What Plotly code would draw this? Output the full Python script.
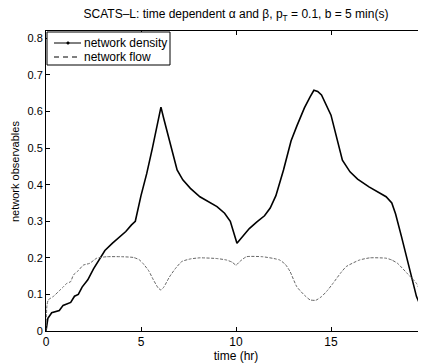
import plotly.graph_objects as go

density_t = [0, 0.1, 0.3, 0.5, 0.7, 0.9, 1.1, 1.3, 1.5, 1.7, 1.9, 2.2, 2.5, 2.8, 3.1, 3.5, 3.9, 4.2, 4.5, 4.7,
             5.0, 5.3, 5.6, 5.9, 6.05, 6.2, 6.5, 6.9, 7.2, 7.6, 8.1, 8.6, 9.0, 9.4, 9.7, 10.05, 10.4, 10.7, 11.1, 11.5,
             11.8, 12.1, 12.5, 12.9, 13.2, 13.6, 13.9, 14.1, 14.3, 14.5, 15.0, 15.3, 15.6, 16.0, 16.4, 17.0, 17.5, 17.9,
             18.2, 18.4, 18.7, 19.0, 19.3, 19.5, 19.7, 19.85, 20]
density = [0, 0.035, 0.05, 0.053, 0.056, 0.07, 0.074, 0.078, 0.095, 0.1, 0.12, 0.14, 0.17, 0.195, 0.22, 0.24, 0.258, 0.272, 0.29, 0.3,
           0.37, 0.43, 0.5, 0.57, 0.612, 0.58, 0.52, 0.44, 0.413, 0.39, 0.367, 0.352, 0.34, 0.322, 0.3, 0.24, 0.26, 0.28, 0.298, 0.315,
           0.336, 0.37, 0.44, 0.52, 0.56, 0.61, 0.64, 0.658, 0.655, 0.645, 0.59, 0.53, 0.467, 0.435, 0.415, 0.394, 0.38, 0.367,
           0.35, 0.32, 0.26, 0.2, 0.14, 0.094, 0.07, 0.058, 0.057]

flow_t = [0, 0.05, 0.12, 0.4, 0.74, 0.9, 1.09, 1.3, 1.44, 1.7, 1.96, 2.3, 2.67, 3.2, 4.0, 4.6, 4.9, 5.1, 5.4, 5.65,
          5.9, 6.05, 6.2, 6.5, 6.8, 7.15, 7.6, 8.1, 9.0, 9.5, 9.8, 10.0, 10.2, 10.55, 11.4, 12.0, 12.3, 12.6, 12.85, 13.2,
          13.6, 13.9, 14.2, 14.5, 14.8, 15.1, 15.5, 15.8, 16.5, 17.05, 17.9, 18.2, 18.5, 19.0, 19.5, 19.85, 20]
flow = [0, 0.07, 0.085, 0.095, 0.112, 0.12, 0.13, 0.135, 0.153, 0.165, 0.18, 0.185, 0.199, 0.203, 0.203, 0.201, 0.195, 0.185, 0.165, 0.14,
        0.118, 0.112, 0.12, 0.148, 0.17, 0.19, 0.197, 0.2, 0.198, 0.194, 0.188, 0.18, 0.19, 0.203, 0.203, 0.198, 0.194, 0.182, 0.162, 0.121,
        0.098, 0.085, 0.084, 0.094, 0.11, 0.13, 0.158, 0.176, 0.194, 0.2, 0.199, 0.194, 0.185, 0.158, 0.13, 0.094, 0.095]

series_names = ["network density", "network flow"]
x_ticks = [0, 5, 10, 15, 20]
y_ticks = [0, 0.1, 0.2, 0.3, 0.4, 0.5, 0.6, 0.7, 0.8]
y_tick_labels = ["0", "0.1", "0.2", "0.3", "0.4", "0.5", "0.6", "0.7", "0.8"]

# page body has an 8px default margin; compensate so the figure fills the 426x363 window
W, H = 418, 355
ML, MT, MB = 38, 23, 32
PX0, PY0, PW, PH = 46, 31, 380, 300  # plot area in window pixels


def px(xp):
    return (xp - PX0) / PW


def py(yp):
    return (PY0 + PH - yp) / PH


fnt = "Arial, Liberation Sans, sans-serif"

fig = go.Figure()
fig.add_trace(go.Scatter(x=density_t, y=density, mode="lines", name=series_names[0], showlegend=False,
                         line=dict(color="black", width=1.6)))
fig.add_trace(go.Scatter(x=flow_t, y=flow, mode="lines", name=series_names[1], showlegend=False,
                         line=dict(color="#666666", width=1, dash="3px,1.5px", shape="spline", smoothing=0.5)))

# compact MATLAB-style legend box
shapes = [
    dict(type="rect", xref="paper", yref="paper", x0=px(47), x1=px(170), y0=py(65), y1=py(32),
         line=dict(color="black", width=1), fillcolor="white", layer="above"),
    dict(type="line", xref="paper", yref="paper", x0=px(54), x1=px(81), y0=py(43), y1=py(43),
         line=dict(color="black", width=1), layer="above"),
    dict(type="circle", xref="paper", yref="paper", x0=px(66.7), x1=px(69.3), y0=py(44.3), y1=py(41.7),
         line=dict(color="black", width=0.5), fillcolor="black", layer="above"),
    dict(type="line", xref="paper", yref="paper", x0=px(54), x1=px(81), y0=py(57), y1=py(57),
         line=dict(color="black", width=1, dash="5px,4px"), layer="above"),
]
annotations = [
    dict(text=series_names[0], xref="paper", yref="paper", x=px(81.5), y=py(43), xanchor="left",
         yanchor="middle", showarrow=False, font=dict(family=fnt, size=12, color="black")),
    dict(text=series_names[1], xref="paper", yref="paper", x=px(81.5), y=py(57), xanchor="left",
         yanchor="middle", showarrow=False, font=dict(family=fnt, size=12, color="black")),
    dict(text="network observables", xref="paper", yref="paper", x=px(15), y=py(172), textangle=-90,
         xanchor="center", yanchor="middle", showarrow=False, font=dict(family=fnt, size=11, color="black")),
]

fig.update_layout(
    width=W, height=H,
    margin=dict(l=ML, r=0, t=MT, b=MB, pad=0),
    paper_bgcolor="white", plot_bgcolor="white",
    font=dict(family=fnt, size=11, color="black"),
    title=dict(text="SCATS–L: time dependent α and β, p<sub>T</sub> = 0.1, b = 5 min(s)",
               x=(ML + W) / 2 / W, xanchor="center", y=1 - 6 / H, yanchor="middle",
               font=dict(family=fnt, size=12, color="black")),
    showlegend=False,
    shapes=shapes,
    annotations=annotations,
)
fig.update_xaxes(range=[0, 20], tickvals=x_ticks, ticktext=[str(v) for v in x_ticks],
                 ticks="inside", ticklen=4, tickcolor="black", showline=True, linecolor="black",
                 linewidth=1, mirror="ticks", showgrid=False, zeroline=False,
                 tickfont=dict(size=12),
                 title=dict(text="time (hr)", standoff=0, font=dict(size=12)))
fig.update_yaxes(range=[0, 0.82], tickvals=y_ticks, ticktext=y_tick_labels,
                 ticks="inside", ticklen=4, tickcolor="black", showline=True, linecolor="black",
                 linewidth=1, mirror="ticks", showgrid=False, zeroline=False,
                 tickfont=dict(size=11))

fig.write_html("out.html")
